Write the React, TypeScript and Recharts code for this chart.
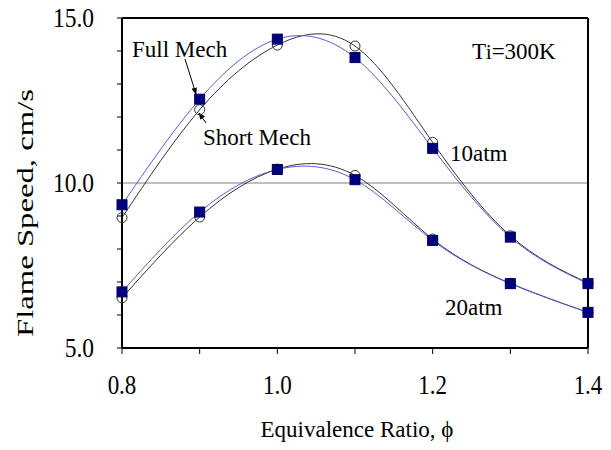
import { LineChart, Line, XAxis, YAxis, ReferenceLine, Customized } from 'recharts'

// equivalence ratio
const phi = [0.8, 0.9, 1.0, 1.1, 1.2, 1.3, 1.4]
// flame speed, cm/s
const full10 = [9.34, 12.54, 14.36, 13.8, 11.05, 8.36, 6.95]
const short10 = [8.95, 12.22, 14.18, 14.15, 11.23, 8.4, 6.97]
const full20 = [6.7, 9.12, 10.41, 10.1, 8.26, 6.95, 6.08]
const short20 = [6.52, 8.97, 10.42, 10.23, 8.3, 6.96, 6.08]

const xTicks = [0.8, 0.9, 1.0, 1.1, 1.2, 1.3, 1.4]
const yTicks = [5, 6, 7, 8, 9, 10, 11, 12, 13, 14, 15]

const FONT = 'Liberation Serif'
const serif = { fontFamily: FONT }

const data = phi.map((p, i) => ({
  phi: p,
  full10: full10[i],
  short10: short10[i],
  full20: full20[i],
  short20: short20[i],
}))

const SquareDot = (props: any) => {
  const { cx, cy } = props
  if (cx == null || cy == null) return null
  return <rect x={cx - 5} y={cy - 5} width={10} height={10} fill="#000080" stroke="#00005a" strokeWidth={1} />
}

const CircleDot = (props: any) => {
  const { cx, cy } = props
  if (cx == null || cy == null) return null
  return <circle cx={cx} cy={cy} r={5} fill="none" stroke="#333" strokeWidth={1} />
}

// tick labels in the original are a bit taller than normal, so stretch them vertically
const XTick = (props: any) => {
  const { x, y, payload } = props
  const v = payload.value as number
  if (Math.round(v * 10) % 2 !== 0) return null
  return (
    <g transform={`translate(${x},${y}) scale(1,1.2)`}>
      <text x={0} y={27} textAnchor="middle" fontSize={23} fill="#000" style={serif}>
        {v.toFixed(1)}
      </text>
    </g>
  )
}

const YTick = (props: any) => {
  const { x, y, payload } = props
  const v = payload.value as number
  if (v % 5 !== 0) return null
  return (
    <g transform={`translate(${x},${y}) scale(1,1.2)`}>
      <text x={0} y={7.5} textAnchor="end" fontSize={23.5} fill="#000" style={serif}>
        {v.toFixed(1)}
      </text>
    </g>
  )
}

// text labels, arrows and axis titles
const Annotations = () => (
  <g fill="#000">
    <defs>
      <marker id="arr" viewBox="0 0 10 10" refX="9" refY="5" markerWidth="7" markerHeight="7" orient="auto">
        <path d="M0,1 L10,5 L0,9 z" fill="#000" />
      </marker>
    </defs>
    <text x={132} y={57} fontSize={23} style={serif}>Full Mech</text>
    <line x1={185} y1={59} x2={196} y2={94} stroke="#000" strokeWidth={1} markerEnd="url(#arr)" />
    <text x={203} y={145} fontSize={23} style={serif}>Short Mech</text>
    <line x1={206} y1={123} x2={199} y2={113} stroke="#000" strokeWidth={1} markerEnd="url(#arr)" />
    <text x={472} y={59} fontSize={23} style={serif}>
      T<tspan fontSize={20}>i</tspan>=300K
    </text>
    <text x={450} y={161} fontSize={23} style={serif}>10atm</text>
    <text x={445} y={315} fontSize={23} style={serif}>20atm</text>
    <text x={357} y={437} fontSize={23} textAnchor="middle" style={serif}>Equivalence Ratio, ϕ</text>
    <text
      x={33}
      y={213}
      fontSize={24}
      textAnchor="middle"
      transform="rotate(-90 33 213)"
      textLength={248}
      lengthAdjust="spacingAndGlyphs"
      style={serif}
    >
      Flame Speed, cm/s
    </text>
  </g>
)

export default function App() {
  return (
    <div style={{ position: 'absolute', left: 0, top: 0, width: 611, height: 450, background: '#fff', fontFamily: FONT }}>
      <LineChart width={611} height={450} data={data} margin={{ top: 18, right: 23, bottom: 42, left: 0 }}>
        <XAxis
          dataKey="phi"
          type="number"
          domain={[0.8, 1.4]}
          ticks={xTicks}
          interval={0}
          height={60}
          tickSize={6}
          tickMargin={8}
          axisLine={{ stroke: '#000', strokeWidth: 2 }}
          tickLine={{ stroke: '#000' }}
          tick={XTick}
        />
        <YAxis
          type="number"
          domain={[5, 15]}
          ticks={yTicks}
          interval={0}
          width={122}
          tickSize={5}
          tickMargin={23}
          axisLine={{ stroke: '#000', strokeWidth: 2 }}
          tickLine={{ stroke: '#000' }}
          tick={YTick}
        />
        <ReferenceLine y={10} stroke="#808080" strokeWidth={1} />
        <ReferenceLine y={15} stroke="#000" strokeWidth={2} />
        <ReferenceLine x={1.4} stroke="#000" strokeWidth={2} />
        <Line type="natural" dataKey="short10" stroke="#333" strokeWidth={1} dot={CircleDot} isAnimationActive={false} />
        <Line type="natural" dataKey="short20" stroke="#333" strokeWidth={1} dot={CircleDot} isAnimationActive={false} />
        <Line type="natural" dataKey="full10" stroke="#5c5cd6" strokeWidth={1} dot={SquareDot} isAnimationActive={false} />
        <Line type="natural" dataKey="full20" stroke="#5c5cd6" strokeWidth={1} dot={SquareDot} isAnimationActive={false} />
        <Customized component={Annotations} />
      </LineChart>
    </div>
  )
}
